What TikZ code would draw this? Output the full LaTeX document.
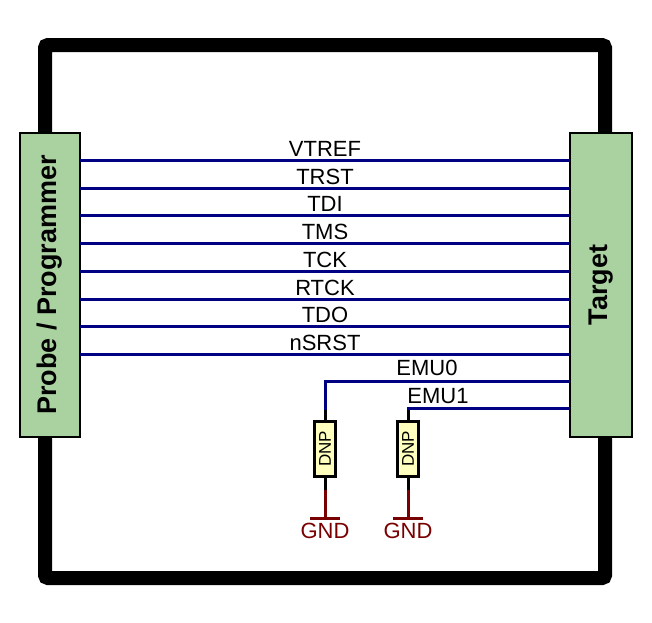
\documentclass[tikz,border=0pt]{standalone}
\usepackage{fontspec}
\setmainfont{Liberation Sans}
\begin{document}
\begin{tikzpicture}[x=1pt,y=-1pt,
  box/.style={draw=black,line width=2pt,fill={rgb,255:red,170;green,210;blue,160}},
  sig/.style={draw={rgb,255:red,0;green,0;blue,130},line width=3pt},
  lbl/.style={font=\fontsize{22}{22}\selectfont,inner sep=0pt},
  res/.style={draw=black,line width=3pt,fill={rgb,255:red,255;green,255;blue,190},minimum width=21pt,minimum height=55pt,inner sep=0pt},
  gnd/.style={draw={rgb,255:red,120;green,0;blue,0},line width=3pt}]
\useasboundingbox (0,0) rectangle (652,622);
\draw[line width=14pt,rounded corners=3pt] (45,45) rectangle (605,578);
\node[box,minimum width=60pt,minimum height=304pt,inner sep=0pt] (P) at (50,285) {};
\node[rotate=90,font=\bfseries\fontsize{27}{27}\selectfont] at (P) {Probe / Programmer};
\node[box,minimum width=62pt,minimum height=304pt,inner sep=0pt] (T) at (601,285) {};
\node[rotate=90,font=\bfseries\fontsize{27}{27}\selectfont] at (T) {Target};
\foreach \y/\t [count=\i] in {160/VTREF,188/TRST,215/TDI,243/TMS,271/TCK,299/RTCK,326/TDO,354/nSRST}{
  \coordinate (a\i) at (80,\y); \coordinate (b\i) at (570,\y);
  \draw[sig] (a\i) -- (b\i);
  \node[lbl,anchor=base] (l\i) at (325,\y-4) {\t};
}
\coordinate (e0) at (570,381); \coordinate (e1) at (570,408);
\node[res] (R1) at (325,449) {}; \node[rotate=90,font=\fontsize{17}{17}\selectfont] at (R1) {DNP};
\node[res] (R2) at (408,449) {}; \node[rotate=90,font=\fontsize{17}{17}\selectfont] at (R2) {DNP};
\draw[sig] (e0) -- (325,381) -- (325,410);
\draw[sig] (e1) -- (408,408) -- (408,410);
\node[lbl,anchor=base] at (427,375) {EMU0};
\node[lbl,anchor=base] at (438,403) {EMU1};
\foreach \r/\x in {R1/325,R2/408}{
  \draw[line width=3pt] (\x,410) -- (\r.north);
  \draw[line width=3pt] (\r.south) -- (\x,490);
  \coordinate (g\r) at (\x,518);
  \draw[gnd] (\x,490) -- (g\r);
  \draw[gnd] (\x-15,518) -- (\x+15,518);
  \node[lbl,anchor=base,text={rgb,255:red,120;green,0;blue,0}] at (\x,538) {GND};
}
\end{tikzpicture}
\end{document}
